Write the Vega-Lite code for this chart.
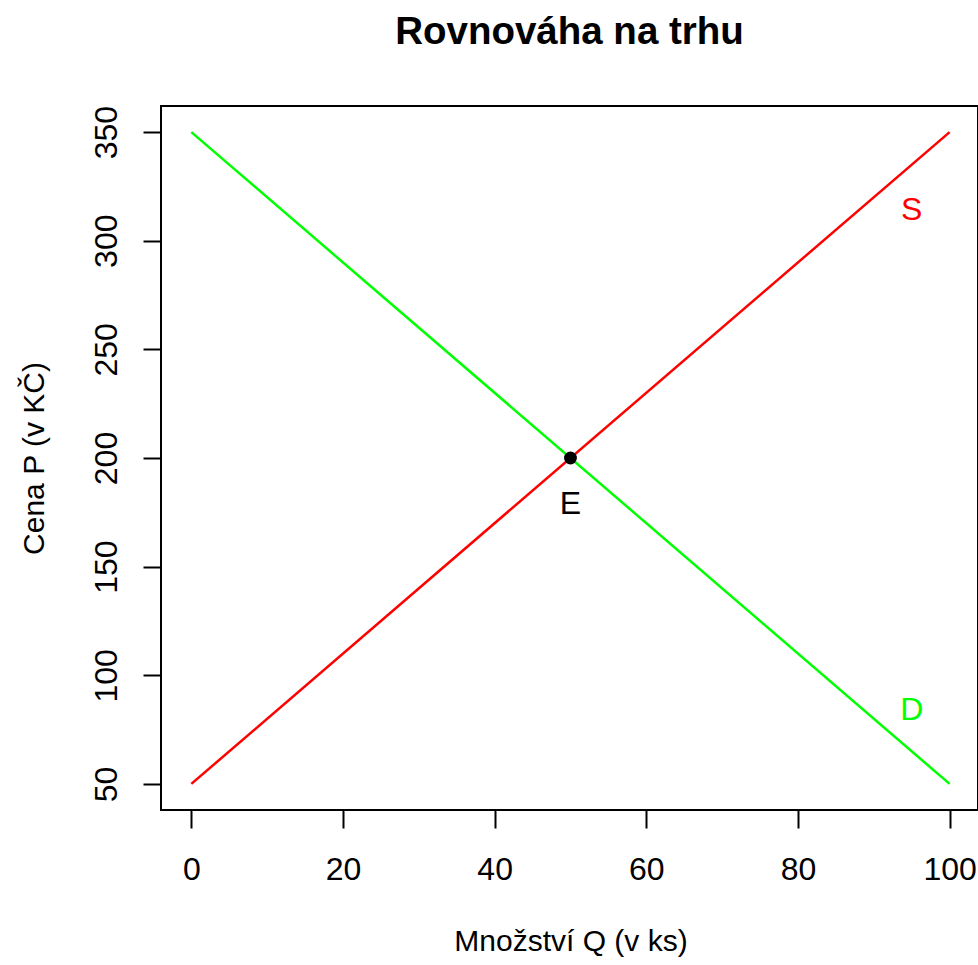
{
  "$schema": "https://vega.github.io/schema/vega-lite/v6.json",
  "autosize": {"type": "none"},
  "width": 817,
  "height": 704,
  "padding": {"left": 161, "top": 106, "right": 0, "bottom": 155},
  "background": "white",
  "config": {
    "font": "Liberation Sans",
    "view": {"stroke": "black", "strokeWidth": 2},
    "axis": {"grid": false, "domain": false, "tickColor": "black", "tickWidth": 2, "tickSize": 18, "labelFont": "Liberation Sans", "labelFontSize": 32, "labelColor": "black", "titleFont": "Liberation Sans", "titleFontSize": 30, "titleFontWeight": "normal", "titleColor": "black"}
  },
  "title": {"text": "Rovnováha na trhu", "font": "Liberation Sans", "fontSize": 38.5, "fontWeight": "bold", "color": "black", "anchor": "middle", "offset": 53},
  "datasets": {
    "curves": [
      {"Q": 0, "P": 50, "krivka": "S"},
      {"Q": 100, "P": 350, "krivka": "S"},
      {"Q": 0, "P": 350, "krivka": "D"},
      {"Q": 100, "P": 50, "krivka": "D"}
    ],
    "labels": [
      {"Q": 95, "P": 314, "text": "S", "krivka": "S"},
      {"Q": 95, "P": 84, "text": "D", "krivka": "D"},
      {"Q": 50, "P": 179, "text": "E", "krivka": "E"}
    ],
    "eq": [{"Q": 50, "P": 200}]
  },
  "layer": [
    {
      "data": {"name": "curves"},
      "mark": {"type": "line", "strokeWidth": 2.5},
      "encoding": {
        "x": {"field": "Q", "type": "quantitative", "scale": {"domain": [-4, 103.74], "nice": false, "zero": false},
          "axis": {"values": [0, 20, 40, 60, 80, 100], "title": "Množství Q (v ks)", "labelPadding": 26, "labelBaseline": "top", "titleBaseline": "alphabetic", "titleX": 409.5, "titleY": 140, "titleAnchor": "middle"}},
        "y": {"field": "P", "type": "quantitative", "scale": {"domain": [38, 362], "nice": false, "zero": false},
          "axis": {"values": [50, 100, 150, 200, 250, 300, 350], "title": "Cena P (v KČ)", "labelAngle": -90, "labelAlign": "center", "labelBaseline": "alphabetic", "labelPadding": 26.5, "titleAngle": -90, "titleBaseline": "alphabetic", "titleAlign": "center", "titleX": -118, "titleY": 352}},
        "color": {"field": "krivka", "type": "nominal", "scale": {"domain": ["S", "D", "E"], "range": ["#FF0000", "#00FF00", "#000000"]}, "legend": null},
        "detail": {"field": "krivka"}
      }
    },
    {
      "data": {"name": "eq"},
      "mark": {"type": "point", "filled": true, "size": 165, "color": "black", "opacity": 1},
      "encoding": {
        "x": {"field": "Q", "type": "quantitative"},
        "y": {"field": "P", "type": "quantitative"}
      }
    },
    {
      "data": {"name": "labels"},
      "mark": {"type": "text", "fontSize": 32, "font": "Liberation Sans", "baseline": "middle", "align": "center"},
      "encoding": {
        "x": {"field": "Q", "type": "quantitative"},
        "y": {"field": "P", "type": "quantitative"},
        "text": {"field": "text"},
        "color": {"field": "krivka", "type": "nominal", "legend": null}
      }
    }
  ]
}
